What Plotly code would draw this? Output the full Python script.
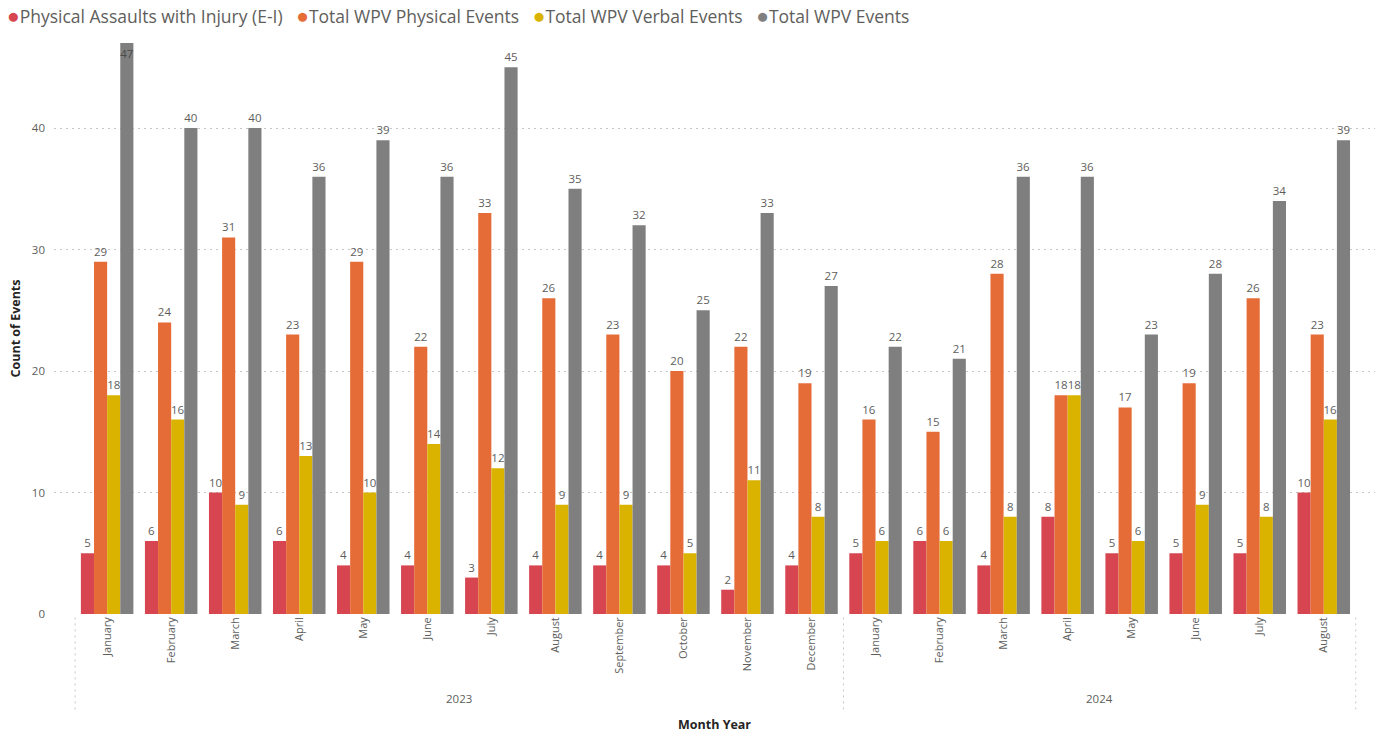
import plotly.graph_objects as go

months = ["January", "February", "March", "April", "May", "June", "July", "August",
          "September", "October", "November", "December",
          "January", "February", "March", "April", "May", "June", "July", "August"]
years = ["2023"] * 12 + ["2024"] * 8

injury = [5, 6, 10, 6, 4, 4, 3, 4, 4, 4, 2, 4, 5, 6, 4, 8, 5, 5, 5, 10]
physical = [29, 24, 31, 23, 29, 22, 33, 26, 23, 20, 22, 19, 16, 15, 28, 18, 17, 19, 26, 23]
verbal = [18, 16, 9, 13, 10, 14, 12, 9, 9, 5, 11, 8, 6, 6, 8, 18, 6, 9, 8, 16]
total = [47, 40, 40, 36, 39, 36, 45, 35, 32, 25, 33, 27, 22, 21, 36, 36, 23, 28, 34, 39]

series = [
    ("Physical Assaults with Injury (E-I)", injury, "#D64550"),
    ("Total WPV Physical Events", physical, "#E66C37"),
    ("Total WPV Verbal Events", verbal, "#D9B300"),
    ("Total WPV Events", total, "#7F7F7F"),
]

FONT = "Segoe UI, Open Sans, sans-serif"
TXT = "#605E5C"
YMAX = 47

xpos = list(range(len(months)))

fig = go.Figure()
for name, vals, col in series:
    # labels that would not fit above the axis top go inside the bar end
    pos = ["inside" if v > YMAX - 1.5 and v >= YMAX else "outside" for v in vals]
    fig.add_trace(go.Bar(
        x=xpos, y=vals, name=name, marker=dict(color=col, line=dict(width=0)),
        text=[str(v) for v in vals], textposition=pos, cliponaxis=False,
        constraintext="none", insidetextanchor="end",
        textfont=dict(family=FONT, size=11.5, color=TXT),
        insidetextfont=dict(family=FONT, size=11.5, color="#4A4A4A"),
        showlegend=False,
    ))

# year group labels and separators
year_names = []
for y in years:
    if y not in year_names:
        year_names.append(y)
bounds = [-0.5]
for yn in year_names:
    idx = [i for i, y in enumerate(years) if y == yn]
    center = (idx[0] + idx[-1]) / 2
    fig.add_annotation(x=center, xref="x", y=-0.148, yref="paper", text=yn,
                       showarrow=False, font=dict(family=FONT, size=11.5, color=TXT),
                       yanchor="middle")
    bounds.append(idx[-1] + 0.5)
for b in bounds:
    fig.add_shape(type="line", x0=b, x1=b, xref="x", y0=-0.006, y1=-0.172, yref="paper",
                  line=dict(color="#C8C6C4", width=1, dash="2px,4px"))

# x axis title
fig.add_annotation(x=0.5, xref="paper", y=-0.193, yref="paper", text="<b>Month Year</b>",
                   showarrow=False, font=dict(family=FONT, size=12.5, color="#252423"),
                   yanchor="middle")

# legend as text
legend_html = "&nbsp;&nbsp;&nbsp;".join(
    f"<span style='color:{col};font-size:21px'>●</span>{name}" for name, _, col in series)
fig.add_annotation(xref="paper", yref="paper", x=-0.037, y=1.0, yshift=28,
                   xanchor="left", yanchor="middle", text=legend_html, showarrow=False,
                   font=dict(family=FONT, size=17.5, color=TXT), align="left")

fig.update_layout(
    width=1381, height=733,
    barmode="group", bargap=0.18, bargroupgap=0,
    plot_bgcolor="white", paper_bgcolor="white",
    margin=dict(l=54, r=6, t=43, b=119),
    font=dict(family=FONT, color=TXT),
    xaxis=dict(
        tickvals=xpos, ticktext=months, tickangle=-90,
        tickfont=dict(family=FONT, size=11, color=TXT),
        range=[-0.83, 19.8], showgrid=False, zeroline=False, showline=False,
        ticks="", ticklen=0,
    ),
    yaxis=dict(
        range=[0, YMAX], tickvals=[0, 10, 20, 30, 40],
        tickfont=dict(family=FONT, size=11.5, color=TXT),
        showgrid=True, gridcolor="#C8C6C4", griddash="2px,4px", gridwidth=1,
        zeroline=False, showline=False, ticks="", ticklabelstandoff=8,
        title=dict(text="<b>Count of Events</b>", font=dict(family=FONT, size=12.5, color="#252423"),
                   standoff=8),
    ),
)

fig.write_html("out.html")
